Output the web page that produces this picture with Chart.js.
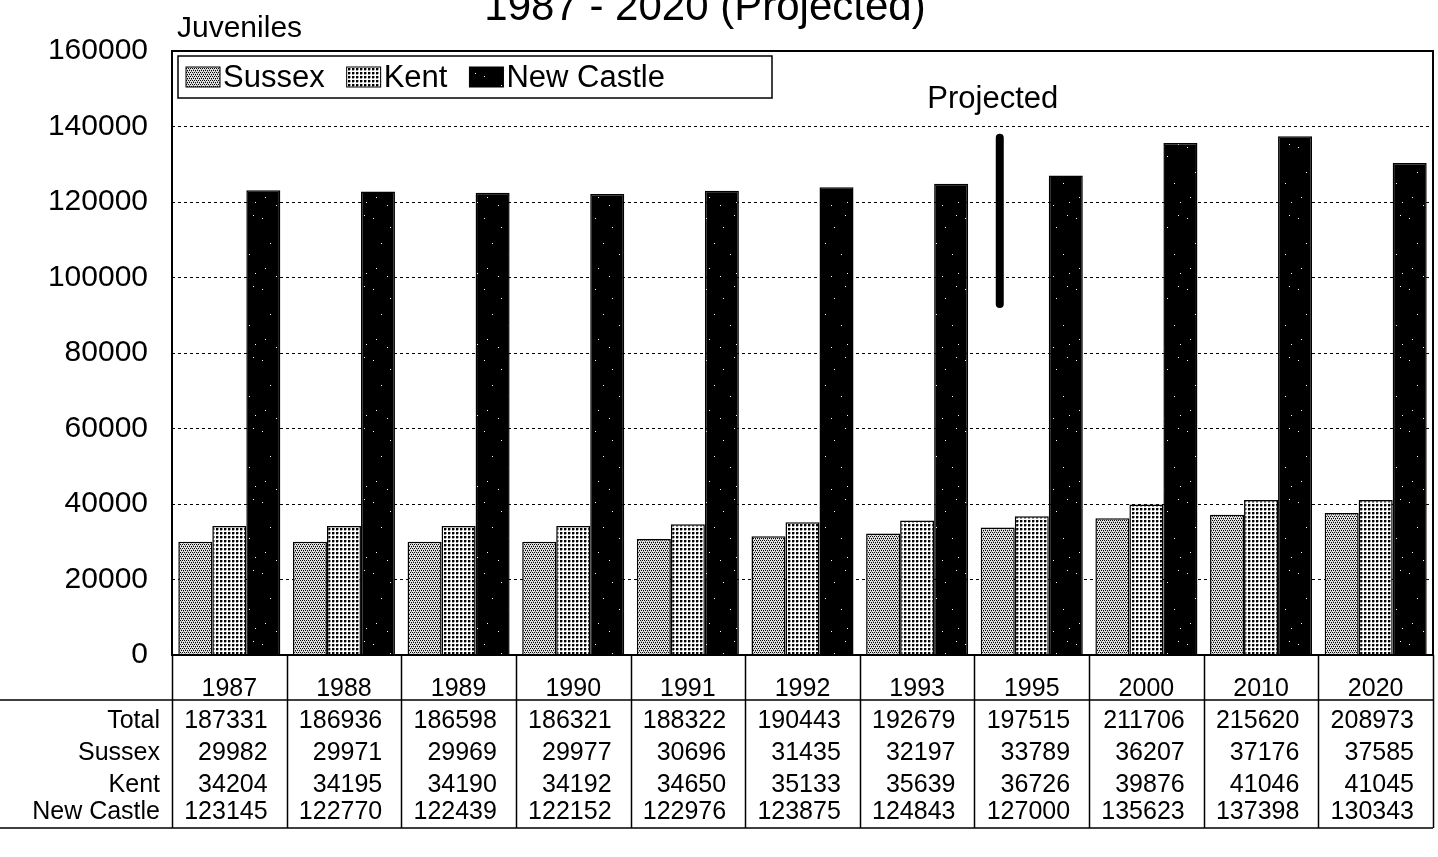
<!DOCTYPE html>
<html>
<head>
<meta charset="utf-8">
<script src="https://cdn.jsdelivr.net/npm/chart.js@4.4.1/dist/chart.umd.min.js"></script>
<style>
  html, body { margin: 0; padding: 0; background: #fff; }
  canvas { display: block; }
</style>
</head>
<body>
<canvas id="myChart" width="1438" height="857"></canvas>
<script>
// data (table at the bottom)
var years = ["1987","1988","1989","1990","1991","1992","1993","1995","2000","2010","2020"];
var totals = [187331,186936,186598,186321,188322,190443,192679,197515,211706,215620,208973];
var sussex = [29982,29971,29969,29977,30696,31435,32197,33789,36207,37176,37585];
var kent = [34204,34195,34190,34192,34650,35133,35639,36726,39876,41046,41045];
var newCastle = [123145,122770,122439,122152,122976,123875,124843,127000,135623,137398,130343];
var rowLabels = ["Total","Sussex","Kent","New Castle"];
var seriesNames = ["Sussex","Kent","New Castle"];
var yMin = 0, yMax = 160000, yStep = 20000;
// the marker line drawn at 1995, where projections start
var projectedYear = "1995";
var projectedRange = [93000, 137000];

var FONT = "Arial, 'Liberation Sans', sans-serif";

function makePattern(kind) {
    var c = document.createElement('canvas');
    var g = c.getContext('2d');
    if (kind == 'sussex') {
        c.width = 4; c.height = 4;
        g.fillStyle = '#e4e4e4'; g.fillRect(0,0,4,4);
        g.fillStyle = '#000';
        g.fillRect(0,0,1,1); g.fillRect(2,0,1,1);
        g.fillRect(1,2,1,1); g.fillRect(3,2,1,1);
        g.fillStyle = '#888';
        g.fillRect(1,1,1,1); g.fillRect(3,3,1,1);
    } else if (kind == 'kent') {
        c.width = 4; c.height = 4;
        g.fillStyle = '#fff'; g.fillRect(0,0,4,4);
        g.fillStyle = '#000'; g.fillRect(0,0,2,2);
        g.fillStyle = '#999'; g.fillRect(2,0,1,2); g.fillRect(0,2,2,1);
    } else {
        c.width = 37; c.height = 71;
        g.fillStyle = '#000'; g.fillRect(0,0,37,71);
        g.fillStyle = '#fff';
        var specks = [[3,5],[20,14],[31,2],[11,30],[27,41],[6,55],[17,63],[33,60]];
        specks.forEach(function(p){ g.fillRect(p[0],p[1],1,1); });
    }
    return g.createPattern(c, 'repeat');
}

var patterns = [makePattern('sussex'), makePattern('kent'), makePattern('newcastle')];
var seriesData = [sussex, kent, newCastle];

var tableLayout = {
    bottom: 828,
    yearRowLine: 700,
    yearY: 689,
    rowY: [721, 753, 785, 812],
    labelRight: 160
};

var extras = {
    id: 'extras',
    afterDraw: function(chart) {
        var ctx = chart.ctx;
        var a = chart.chartArea;
        var x = chart.scales.x;
        var y = chart.scales.y;
        var w = (a.right - a.left) / years.length;
        ctx.save();

        // frame of plot area
        ctx.strokeStyle = '#000';
        ctx.lineWidth = 2;
        ctx.strokeRect(a.left, a.top, a.right - a.left, a.bottom - a.top);

        // title (cut off by top edge in the scan)
        ctx.fillStyle = '#000';
        ctx.textBaseline = 'alphabetic';
        ctx.textAlign = 'center';
        ctx.font = '42px ' + FONT;
        ctx.fillText('1987 - 2020 (Projected)', 705, 20);

        ctx.textAlign = 'left';
        ctx.font = '30px ' + FONT;
        ctx.fillText('Juveniles', 177, 37);

        // legend box
        var lx = 178, ly = 56, lw = 594, lh = 42;
        ctx.fillStyle = '#fff';
        ctx.fillRect(lx, ly, lw, lh);
        ctx.lineWidth = 1.5;
        ctx.strokeRect(lx, ly, lw, lh);
        ctx.font = '31px ' + FONT;
        ctx.textBaseline = 'middle';
        var px = lx + 8;
        for (var i = 0; i < seriesNames.length; i++) {
            ctx.fillStyle = patterns[i];
            ctx.fillRect(px, ly + 11, 34, 20);
            ctx.strokeStyle = '#000';
            ctx.lineWidth = 1;
            ctx.strokeRect(px, ly + 11, 34, 20);
            ctx.fillStyle = '#000';
            ctx.fillText(seriesNames[i], px + 37, ly + lh / 2 + 1);
            px += 37 + ctx.measureText(seriesNames[i]).width + 22;
        }

        // projected marker
        var meta = chart.getDatasetMeta(0);
        var idx = years.indexOf(projectedYear);
        var mx = meta.data[idx].x + 2;
        ctx.beginPath();
        ctx.lineCap = 'round';
        ctx.lineWidth = 8;
        ctx.moveTo(mx, y.getPixelForValue(projectedRange[1]));
        ctx.lineTo(mx, y.getPixelForValue(projectedRange[0]));
        ctx.stroke();
        ctx.font = '31px ' + FONT;
        ctx.textAlign = 'center';
        ctx.textBaseline = 'alphabetic';
        ctx.fillText('Projected', mx - 7, 108);

        // data table below the plot
        ctx.lineCap = 'butt';
        ctx.lineWidth = 1.5;
        ctx.beginPath();
        for (var j = 0; j <= years.length; j++) {
            var vx = Math.round(a.left + j * w) + 0.5;
            ctx.moveTo(vx, a.bottom);
            ctx.lineTo(vx, tableLayout.bottom);
        }
        ctx.moveTo(0, tableLayout.yearRowLine);
        ctx.lineTo(a.right, tableLayout.yearRowLine);
        ctx.moveTo(0, tableLayout.bottom);
        ctx.lineTo(a.right, tableLayout.bottom);
        ctx.stroke();

        ctx.font = '25px ' + FONT;
        ctx.textBaseline = 'middle';
        ctx.textAlign = 'center';
        years.forEach(function(yr, k) {
            ctx.fillText(yr, x.getPixelForValue(k), tableLayout.yearY);
        });
        var rows = [totals, sussex, kent, newCastle];
        rows.forEach(function(row, r) {
            ctx.textAlign = 'right';
            ctx.fillText(rowLabels[r], tableLayout.labelRight, tableLayout.rowY[r]);
            row.forEach(function(v, k) {
                ctx.fillText(String(v), a.left + (k + 1) * w - 19, tableLayout.rowY[r]);
            });
        });
        ctx.restore();
    }
};

new Chart(document.getElementById('myChart'), {
    type: 'bar',
    data: {
        labels: years,
        datasets: seriesNames.map(function(name, i) {
            return {
                label: name,
                data: seriesData[i],
                backgroundColor: patterns[i],
                borderColor: '#000',
                borderWidth: 1.5,
                borderSkipped: 'bottom',
                categoryPercentage: 0.89,
                barPercentage: 1.0
            };
        })
    },
    options: {
        responsive: false,
        devicePixelRatio: 1,
        animation: false,
        layout: { padding: { left: 0, right: 5, top: 51, bottom: 202 } },
        plugins: {
            legend: { display: false },
            tooltip: { enabled: false },
            title: { display: false }
        },
        scales: {
            x: { display: false },
            y: {
                min: yMin,
                max: yMax,
                afterFit: function(scale) { scale.width = 172; },
                ticks: {
                    stepSize: yStep,
                    color: '#000',
                    font: { family: FONT, size: 30 },
                    padding: 24,
                    callback: function(v) { return String(v); }
                },
                grid: { color: '#000', lineWidth: 1, drawTicks: false },
                border: { display: false, dash: [3, 3] }
            }
        }
    },
    plugins: [extras]
});
</script>
</body>
</html>
